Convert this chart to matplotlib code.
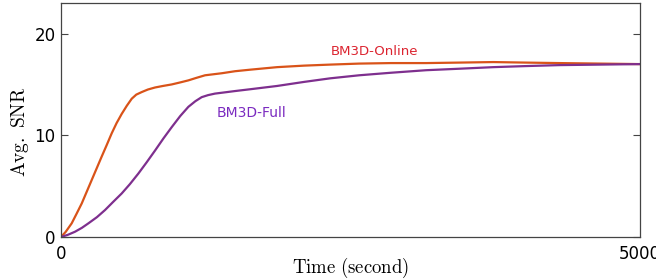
import matplotlib
matplotlib.use("Agg")
import matplotlib.pyplot as plt

plt.rcParams['mathtext.fontset'] = 'cm'

# values
t_online = [0, 40, 92, 135, 179, 222, 265, 308, 351, 395, 438, 480, 524, 568, 611, 650,
            697, 750, 812, 880, 956, 1030, 1100, 1170, 1244, 1388, 1503, 1633, 1866,
            2100, 2324, 2575, 2850, 3154, 3450, 3733, 4000, 4303, 4650, 5000]
snr_online = [0, 0.5, 1.34, 2.3, 3.3, 4.45, 5.6, 6.75, 7.9, 9.05, 10.2, 11.2, 12.1, 12.9,
              13.6, 14.0, 14.25, 14.5, 14.7, 14.85, 15.0, 15.2, 15.4, 15.65, 15.9, 16.1,
              16.3, 16.45, 16.7, 16.85, 16.95, 17.05, 17.1, 17.1, 17.15, 17.2, 17.15,
              17.1, 17.05, 17.0]
t_full = [0, 60, 121, 180, 236, 310, 380, 450, 524, 595, 668, 740, 812, 885, 956, 1030,
          1100, 1160, 1215, 1270, 1330, 1400, 1503, 1650, 1866, 2100, 2324, 2575, 2850,
          3154, 3450, 3733, 4000, 4303, 4650, 5000]
snr_full = [0, 0.22, 0.52, 0.9, 1.34, 1.95, 2.65, 3.45, 4.28, 5.2, 6.24, 7.35, 8.5, 9.7,
            10.8, 11.9, 12.8, 13.35, 13.75, 13.95, 14.1, 14.2, 14.35, 14.55, 14.85, 15.25,
            15.6, 15.9, 16.15, 16.4, 16.55, 16.7, 16.8, 16.9, 16.95, 17.0]

c_online = '#D95319'
c_full = '#7E2F8E'

fig = plt.figure(figsize=(6.56, 2.79), dpi=100)
ax = fig.add_axes([0.093, 0.1505, 0.8826, 0.8385])

ax.plot(t_online, snr_online, color=c_online, lw=1.6)
ax.plot(t_full, snr_full, color=c_full, lw=1.6)

ax.text(2330, 18.2, 'BM3D-Online', color='#DC2430', fontsize=9.5,
        fontfamily='DejaVu Sans', va='center', ha='left')
ax.text(1340, 12.2, 'BM3D-Full', color='#7B2BC0', fontsize=10,
        fontfamily='DejaVu Sans', va='center', ha='left')

ax.set_xlim(0, 5000)
ax.set_ylim(0, 23)
ax.set_xticks([0, 5000])
ax.set_yticks([0, 10, 20])
ax.tick_params(axis='y', direction='in', length=5, right=True, labelsize=12,
               color='#444444', pad=4)
ax.tick_params(axis='x', direction='in', length=0, labelsize=12, pad=6)
for s in ax.spines.values():
    s.set_color('#444444')
    s.set_linewidth(0.9)

ax.set_ylabel(r'$\mathrm{Avg.\ SNR}$', fontsize=14, va='center')
ax.yaxis.set_label_coords(-0.071, 0.45)
ax.set_xlabel(r'$\mathrm{Time\ (second)}$', fontsize=13.5, va='center')
ax.xaxis.set_label_coords(0.5, -0.13)

fig.savefig('out.png', dpi=100)
